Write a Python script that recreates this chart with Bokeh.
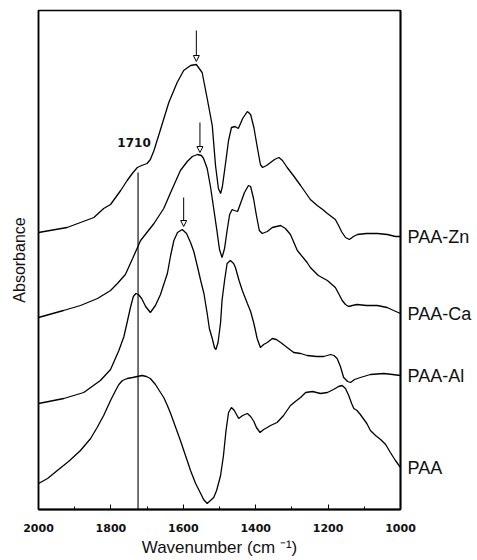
from bokeh.plotting import figure
from bokeh.models import (Range1d, FixedTicker, Label, Arrow, NormalHead,
                          ColumnDataSource, LinearAxis)
from bokeh.embed import file_html
from bokeh.resources import INLINE

# ---------------- data (wavenumber in cm-1, absorbance in arbitrary units, offset per trace) ----------------
zn_wn = [2000, 1921, 1847, 1820, 1801, 1773, 1755, 1741, 1727, 1715, 1700, 1691, 1681, 1663, 1640,
         1617, 1599, 1580, 1564, 1548, 1534, 1520, 1511, 1503, 1497, 1492, 1483, 1475, 1467, 1457,
         1448, 1436, 1423, 1414, 1405, 1395, 1387, 1381, 1370, 1359, 1348, 1336, 1326, 1313, 1296,
         1276, 1249, 1230, 1215, 1202, 1191, 1180, 1171, 1163, 1152, 1141, 1130, 1119, 1094, 1064,
         1036, 1014, 1000]
zn_abs = [2.77, 2.82, 2.92, 3.01, 3.05, 3.19, 3.29, 3.36, 3.42, 3.44, 3.46, 3.50, 3.59, 3.80, 4.07,
          4.27, 4.39, 4.44, 4.45, 4.37, 4.11, 3.84, 3.44, 3.21, 3.16, 3.23, 3.47, 3.69, 3.82, 3.83,
          3.81, 3.91, 3.98, 3.95, 3.82, 3.61, 3.45, 3.42, 3.44, 3.47, 3.50, 3.52, 3.49, 3.42, 3.34,
          3.24, 3.10, 3.04, 3.00, 2.96, 2.93, 2.90, 2.84, 2.78, 2.72, 2.70, 2.73, 2.75, 2.76, 2.76,
          2.75, 2.73, 2.73]

ca_wn = [2000, 1931, 1884, 1837, 1801, 1782, 1760, 1740, 1718, 1681, 1654, 1635, 1608, 1589, 1575,
         1561, 1550, 1544, 1534, 1525, 1516, 1508, 1500, 1493, 1486, 1479, 1472, 1465, 1459, 1450,
         1442, 1431, 1420, 1414, 1406, 1398, 1390, 1382, 1368, 1354, 1331, 1318, 1304, 1285, 1258,
         1249, 1227, 1202, 1180, 1171, 1161, 1152, 1143, 1133, 1120, 1094, 1064, 1037, 1019, 1000]
ca_abs = [1.92, 1.99, 2.04, 2.11, 2.19, 2.26, 2.35, 2.51, 2.69, 2.86, 3.01, 3.17, 3.39, 3.48, 3.53,
          3.55, 3.54, 3.51, 3.41, 3.23, 3.01, 2.81, 2.60, 2.52, 2.61, 2.79, 2.95, 3.00, 2.99, 2.98,
          3.06, 3.17, 3.24, 3.23, 3.11, 2.94, 2.79, 2.76, 2.78, 2.82, 2.84, 2.81, 2.75, 2.59, 2.47,
          2.42, 2.34, 2.29, 2.22, 2.16, 2.09, 2.05, 2.03, 2.04, 2.05, 2.04, 2.04, 2.02, 1.99, 1.96]

al_wn = [2000, 1930, 1875, 1829, 1801, 1778, 1764, 1754, 1746, 1738, 1731, 1724, 1715, 1704, 1691,
         1677, 1663, 1655, 1644, 1635, 1626, 1616, 1603, 1591, 1580, 1571, 1561, 1552, 1543, 1534,
         1528, 1520, 1514, 1510, 1504, 1497, 1493, 1486, 1479, 1470, 1461, 1456, 1446, 1437, 1423,
         1414, 1405, 1396, 1387, 1378, 1368, 1354, 1343, 1331, 1313, 1295, 1276, 1258, 1232, 1212,
         1193, 1184, 1175, 1166, 1157, 1146, 1138, 1127, 1111, 1083, 1046, 1022, 1000]
al_abs = [1.06, 1.11, 1.17, 1.29, 1.40, 1.59, 1.73, 1.89, 2.02, 2.13, 2.16, 2.15, 2.11, 2.03, 1.97,
          2.04, 2.15, 2.24, 2.36, 2.54, 2.69, 2.77, 2.80, 2.76, 2.67, 2.58, 2.43, 2.29, 2.16, 1.96,
          1.81, 1.71, 1.62, 1.60, 1.67, 1.87, 2.09, 2.29, 2.46, 2.49, 2.46, 2.42, 2.29, 2.19, 2.06,
          1.98, 1.86, 1.71, 1.62, 1.65, 1.67, 1.71, 1.70, 1.67, 1.62, 1.57, 1.56, 1.54, 1.53, 1.53,
          1.55, 1.54, 1.51, 1.43, 1.32, 1.28, 1.27, 1.30, 1.32, 1.35, 1.36, 1.35, 1.34]

paa_wn = [2000, 1975, 1948, 1917, 1884, 1856, 1838, 1820, 1801, 1787, 1778, 1768, 1755, 1740, 1727,
          1714, 1702, 1691, 1677, 1663, 1654, 1644, 1635, 1622, 1608, 1594, 1580, 1566, 1552, 1544,
          1534, 1525, 1516, 1508, 1497, 1489, 1482, 1475, 1467, 1459, 1447, 1436, 1423, 1414, 1405,
          1398, 1388, 1378, 1368, 1359, 1341, 1323, 1304, 1287, 1276, 1262, 1243, 1221, 1202, 1185,
          1171, 1161, 1152, 1143, 1135, 1129, 1120, 1111, 1093, 1083, 1069, 1055, 1041, 1028, 1014,
          1000]
paa_abs = [0.26, 0.31, 0.39, 0.48, 0.59, 0.71, 0.82, 0.94, 1.09, 1.19, 1.25, 1.29, 1.31, 1.32, 1.33,
           1.34, 1.33, 1.31, 1.25, 1.17, 1.12, 1.04, 0.96, 0.83, 0.69, 0.54, 0.39, 0.26, 0.16, 0.10,
           0.06, 0.09, 0.12, 0.19, 0.34, 0.54, 0.79, 0.97, 1.02, 0.99, 0.91, 0.94, 0.96, 0.93, 0.88,
           0.82, 0.77, 0.80, 0.82, 0.84, 0.87, 0.94, 1.04, 1.09, 1.12, 1.17, 1.18, 1.16, 1.17, 1.20,
           1.23, 1.24, 1.21, 1.14, 1.06, 1.01, 0.99, 0.95, 0.86, 0.79, 0.74, 0.70, 0.65, 0.57, 0.49,
           0.42]

series_names = ["PAA-Zn", "PAA-Ca", "PAA-Al", "PAA"]

# band marker (1710 cm-1 line as drawn) and arrows marking carboxylate peaks
band_label = "1710"
band_wn = [1725]
band_top = [3.37]

arrow_wn = [1564, 1554, 1599]
arrow_from = [4.79, 3.87, 3.12]
arrow_to = [4.48, 3.57, 2.83]

major_ticks = [2000, 1800, 1600, 1400, 1200, 1000]
minor_ticks = [1900, 1700, 1500, 1300, 1100]

# ---------------- figure ----------------
p = figure(width=477, height=560, output_backend="svg", toolbar_location=None,
           x_range=Range1d(2000, 1000), y_range=Range1d(0, 4.99),
           min_border_left=38, min_border_right=77, min_border_top=10, min_border_bottom=51,
           x_axis_label="Wavenumber (cm \u207b\u00b9)", y_axis_label="Absorbance")
p.background_fill_color = "white"
p.border_fill_color = "white"
p.outline_line_color = "black"
p.outline_line_width = 1.5
p.grid.visible = False

xa = p.xaxis[0]
xa.ticker = FixedTicker(ticks=major_ticks, minor_ticks=minor_ticks)
xa.major_tick_in = 5
xa.major_tick_out = 0
xa.minor_tick_in = 3
xa.minor_tick_out = 0
xa.axis_line_width = 1.8
xa.major_label_standoff = 14
xa.major_label_text_font = "DejaVu Sans"
xa.major_label_text_font_style = "bold"
xa.major_label_text_font_size = "11px"
xa.major_label_text_color = "#111111"
xa.axis_label_standoff = 3
xa.axis_label_text_font = "Liberation Sans"
xa.axis_label_text_font_style = "normal"
xa.axis_label_text_font_size = "17px"
xa.axis_label_text_color = "#111111"

ya = p.yaxis[0]
ya.ticker = FixedTicker(ticks=[])
ya.major_tick_in = 0
ya.major_tick_out = 0
ya.minor_tick_in = 0
ya.minor_tick_out = 0
ya.major_label_standoff = 0
ya.major_label_text_font_size = "0px"
ya.axis_line_width = 1.5
ya.axis_label_standoff = 11
ya.axis_label_text_font = "Liberation Sans"
ya.axis_label_text_font_style = "normal"
ya.axis_label_text_font_size = "16px"
ya.axis_label_text_color = "#111111"

# spectra
all_series = [(zn_wn, zn_abs), (ca_wn, ca_abs), (al_wn, al_abs), (paa_wn, paa_abs)]
for (wn, ab) in all_series:
    p.line(wn, ab, line_color="black", line_width=1.3)

# series names on a right-hand axis, level with each trace's end value
end_vals = [ab[-1] for (wn, ab) in all_series]
overrides = {}
for name, v in zip(series_names, end_vals):
    overrides[v] = name
    overrides[str(v)] = name
ra = LinearAxis(ticker=FixedTicker(ticks=end_vals, minor_ticks=[]),
                major_label_overrides=overrides)
ra.major_tick_in = 0
ra.major_tick_out = 0
ra.minor_tick_in = 0
ra.minor_tick_out = 0
ra.axis_line_width = 1.8
ra.major_label_standoff = 7
ra.major_label_text_font = "Liberation Sans"
ra.major_label_text_font_size = "18px"
ra.major_label_text_color = "#111111"
p.add_layout(ra, "right")

# 1710 band line
p.segment(x0=band_wn, y0=[0] * len(band_wn), x1=band_wn, y1=band_top,
          line_color="black", line_width=1.1)
p.add_layout(Label(x=band_wn[0], y=band_top[0], text=band_label, x_offset=-4, y_offset=30,
                   text_align="center", text_baseline="middle",
                   text_font="DejaVu Sans", text_font_style="bold",
                   text_font_size="12px", text_color="#111111"))

# arrows
arrow_src = ColumnDataSource(dict(x0=arrow_wn, y0=arrow_from, x1=arrow_wn, y1=arrow_to))
p.add_layout(Arrow(x_start="x0", y_start="y0", x_end="x1", y_end="y1", source=arrow_src,
                   line_color="black", line_width=1,
                   end=NormalHead(size=6, fill_color="white", line_color="black", line_width=1)))

open("out.html", "w").write(file_html(p, INLINE))
